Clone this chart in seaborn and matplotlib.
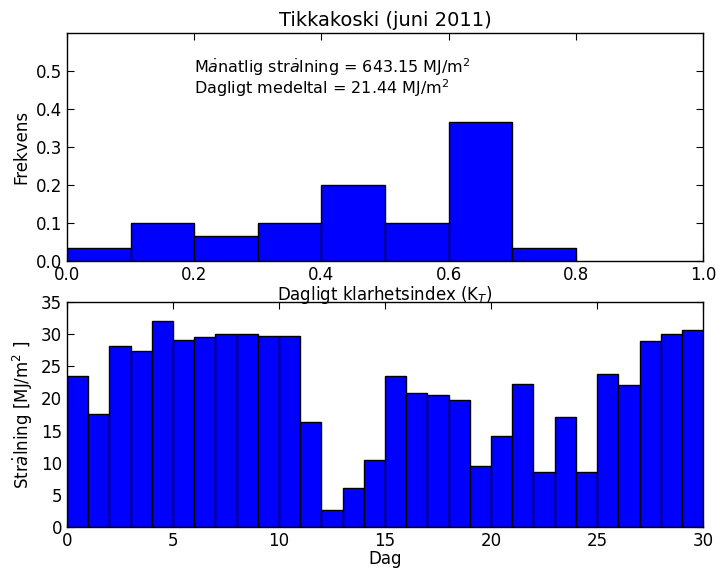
import numpy as np
import pandas as pd
import matplotlib
matplotlib.use("Agg")
import matplotlib.pyplot as plt
import seaborn as sns

# Top histogram: clearness index bins and frequencies
kt_edges = [0.0, 0.1, 0.2, 0.3, 0.4, 0.5, 0.6, 0.7, 0.8]
kt_freq = [0.0333, 0.1, 0.0667, 0.1, 0.2, 0.1, 0.3667, 0.0333]

# Bottom: daily radiation (MJ/m2), day bins 0..30
days = list(range(30))
radiation = [23.5, 17.6, 28.2, 27.4, 32.1, 29.1, 29.6, 30.0, 30.0, 29.7,
             29.7, 16.4, 2.6, 6.0, 10.5, 23.5, 20.8, 20.6, 19.8, 9.5,
             14.2, 22.2, 8.6, 17.1, 8.6, 23.8, 22.1, 28.9, 30.0, 30.6]

sns.set_style("ticks", {"xtick.direction": "in", "ytick.direction": "in"})
plt.rcParams.update({
    "font.family": ["DejaVu Sans"],
    "xtick.top": True, "ytick.right": True,
    "xtick.major.size": 5, "ytick.major.size": 5,
    "axes.edgecolor": "black", "axes.linewidth": 1.0,
    "xtick.color": "black", "ytick.color": "black",
    "text.color": "black", "axes.labelcolor": "black",
    "font.size": 12,
})

fig = plt.figure(figsize=(7.16, 5.70), dpi=100)
ax2 = fig.add_axes([0.0936, 0.0754, 0.8884, 0.3947])
ax1 = fig.add_axes([0.0936, 0.542, 0.8884, 0.400])
ax1.set_zorder(3)
ax1.patch.set_alpha(0)

centers = [(a + b) / 2 for a, b in zip(kt_edges[:-1], kt_edges[1:])]
df1 = pd.DataFrame({"kt": centers, "f": kt_freq})
sns.histplot(data=df1, x="kt", weights="f", bins=kt_edges, ax=ax1,
             color="#0000ff", edgecolor="black", linewidth=1.0, alpha=1.0)
ax1.set_xlim(0, 1)
ax1.set_ylim(0, 0.6)
ax1.set_yticks([0.0, 0.1, 0.2, 0.3, 0.4, 0.5])
ax1.set_xticks([0.0, 0.2, 0.4, 0.6, 0.8, 1.0])
ax1.set_ylabel("Frekvens", fontsize=12)
ax1.set_xlabel("Dagligt klarhetsindex (K$_T$)", fontsize=12, labelpad=0)
ax1.set_title("Tikkakoski (juni 2011)", fontsize=14, pad=5)
ax1.text(0.2, 0.509, "M$\\dot{a}$natlig str$\\dot{a}$lning = 643.15 MJ/m$^2$",
         fontsize=11.5, va="center", ha="left")
ax1.text(0.2, 0.456, "Dagligt medeltal = 21.44 MJ/m$^2$",
         fontsize=11.5, va="center", ha="left")
ax1.tick_params(labelsize=12)

df2 = pd.DataFrame({"dag": [d + 0.5 for d in days], "r": radiation})
sns.histplot(data=df2, x="dag", weights="r", bins=list(range(31)), ax=ax2,
             color="#0000ff", edgecolor="black", linewidth=1.0, alpha=1.0)
ax2.set_xlim(0, 30)
ax2.set_ylim(0, 35)
ax2.set_xticks([0, 5, 10, 15, 20, 25, 30])
ax2.set_yticks([0, 5, 10, 15, 20, 25, 30, 35])
ax2.set_xlabel("Dag", fontsize=12, labelpad=0)
ax2.set_ylabel("Str$\\dot{a}$lning [MJ/m$^2$ ]", fontsize=12)
ax2.tick_params(labelsize=12)

fig.savefig("out.png", dpi=100)
